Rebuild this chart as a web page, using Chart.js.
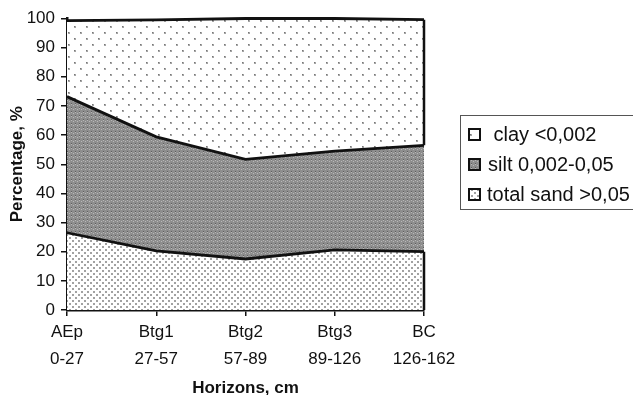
<!DOCTYPE html>
<html>
<head>
<meta charset="utf-8">
<title>Particle size distribution by horizon</title>
<script src="https://cdn.jsdelivr.net/npm/chart.js@4.4.1/dist/chart.umd.min.js"></script>
<style>
  html, body { margin: 0; padding: 0; background: #fff; }
  #wrap { width: 633px; height: 395px; position: relative; }
</style>
</head>
<body>
<div id="wrap"><canvas id="chart"></canvas></div>
<script>
// horizons and their depth ranges (cm)
const horizons = ['AEp', 'Btg1', 'Btg2', 'Btg3', 'BC'];
const depths = ['0-27', '27-57', '57-89', '89-126', '126-162'];

// fractions, % (stacked bottom to top: sand, silt, clay)
const sand = [26.5, 20.3, 17.5, 20.6, 20.0];
const silt = [46.7, 39.1, 34.2, 33.9, 36.5];
const clay = [26.1, 40.1, 48.3, 45.5, 43.1];

const legendLabels = [' clay <0,002', 'silt 0,002-0,05', 'total sand >0,05'];
const yTicks = { min: 0, max: 100, step: 10 };

// small tiled fills for the three areas
function makePattern(size, draw){
  const c = document.createElement('canvas');
  c.width = size; c.height = size;
  const g = c.getContext('2d');
  draw(g, size);
  return g.createPattern(c, 'repeat');
}
const ctx = document.getElementById('chart').getContext('2d');
const clayFill = makePattern(12, (g) => {
  g.fillStyle = '#fff'; g.fillRect(0, 0, 12, 12);
  g.fillStyle = '#a4a4a4'; g.fillRect(2, 2, 2, 2); g.fillRect(8, 8, 2, 2);
  g.fillStyle = '#777'; g.fillRect(2, 2, 1, 1); g.fillRect(8, 8, 1, 1);
});
const siltFill = makePattern(4, (g) => {
  g.fillStyle = '#8e8e8e'; g.fillRect(0, 0, 4, 4);
  g.fillStyle = '#b8b8b8'; g.fillRect(1, 1, 1, 1); g.fillRect(3, 0, 1, 1);
  g.fillStyle = '#5e5e5e'; g.fillRect(3, 3, 1, 1);
});
const sandFill = makePattern(6, (g) => {
  g.fillStyle = '#fff'; g.fillRect(0, 0, 6, 6);
  g.fillStyle = '#a2a2a2'; g.fillRect(0, 0, 2, 2); g.fillRect(3, 3, 2, 2);
});
const legendFills = [clayFill, siltFill, sandFill];

const font = 'Liberation Sans, Arial, sans-serif';

// right edge of the top and bottom areas
const edgePlugin = {
  id: 'edges',
  afterDatasetsDraw(chart){
    const {ctx, chartArea, scales} = chart;
    const n = sand.length - 1;
    const y = scales.y;
    const top = sand[n] + silt[n] + clay[n];
    const mid = sand[n] + silt[n];
    ctx.save();
    ctx.strokeStyle = '#111'; ctx.lineWidth = 2.5;
    ctx.beginPath();
    ctx.moveTo(chartArea.right, y.getPixelForValue(top));
    ctx.lineTo(chartArea.right, y.getPixelForValue(mid));
    ctx.moveTo(chartArea.right, y.getPixelForValue(sand[n]));
    ctx.lineTo(chartArea.right, y.getPixelForValue(0));
    ctx.stroke();
    ctx.restore();
  }
};

// boxed legend to the right of the plot
const legendPlugin = {
  id: 'boxLegend',
  afterDraw(chart){
    const c = chart.ctx;
    c.save();
    c.strokeStyle = '#555'; c.lineWidth = 1;
    c.strokeRect(460.5, 115.5, 180, 94);
    const rows = [135, 165, 195];
    const textX = [488, 488, 487];
    c.font = '20px ' + font;
    c.textBaseline = 'middle';
    legendLabels.forEach((t, i) => {
      c.fillStyle = legendFills[i];
      c.fillRect(469, rows[i] - 6, 11, 11);
      c.strokeStyle = '#111'; c.lineWidth = 2;
      c.strokeRect(469, rows[i] - 6, 11, 11);
      c.fillStyle = '#111';
      c.fillText(t, textX[i], rows[i]);
    });
    c.restore();
  }
};

const area = (label, data, fill, bg) => ({
  label, data, fill, backgroundColor: bg,
  borderColor: '#111', borderWidth: 2.8, tension: 0,
  pointRadius: 0, pointHoverRadius: 0, clip: false
});

new Chart(ctx, {
  type: 'line',
  data: {
    labels: horizons.map((h, i) => [h, depths[i]]),
    datasets: [
      area('total sand >0,05', sand, 'origin', sandFill),
      area('silt 0,002-0,05', silt, '-1', siltFill),
      area('clay <0,002', clay, '-1', clayFill)
    ]
  },
  options: {
    responsive: true,
    maintainAspectRatio: false,
    animation: false,
    layout: { padding: { top: 18.5, right: 209, bottom: 0, left: 0 } },
    plugins: { legend: { display: false }, tooltip: { enabled: false } },
    scales: {
      x: {
        offset: false,
        afterFit: s => { s.height = 85; },
        grid: { drawOnChartArea: false, drawTicks: true, tickLength: 6, color: '#111', lineWidth: 1.5 },
        border: { display: true, color: '#111', width: 2.5 },
        ticks: { color: '#111', padding: 3, maxRotation: 0, font: { family: font, size: 17, lineHeight: 1.6 } },
        title: { display: true, text: 'Horizons, cm', color: '#111', padding: { top: 0, bottom: 0 },
                 font: { family: font, size: 17, weight: 'bold', lineHeight: 0.82 } }
      },
      y: {
        stacked: true,
        min: yTicks.min, max: yTicks.max,
        afterFit: s => { s.width = 67; },
        grid: { drawOnChartArea: false, drawTicks: true, tickLength: 6, color: '#111', lineWidth: 1.5 },
        border: { display: true, color: '#111', width: 2.5 },
        ticks: { stepSize: yTicks.step, color: '#111', padding: 6, font: { family: font, size: 17 } },
        title: { display: true, text: 'Percentage, %', color: '#111', padding: { top: 7, bottom: 0 },
                 font: { family: font, size: 17, weight: 'bold', lineHeight: 1.2 } }
      }
    }
  },
  plugins: [edgePlugin, legendPlugin]
});
</script>
</body>
</html>
